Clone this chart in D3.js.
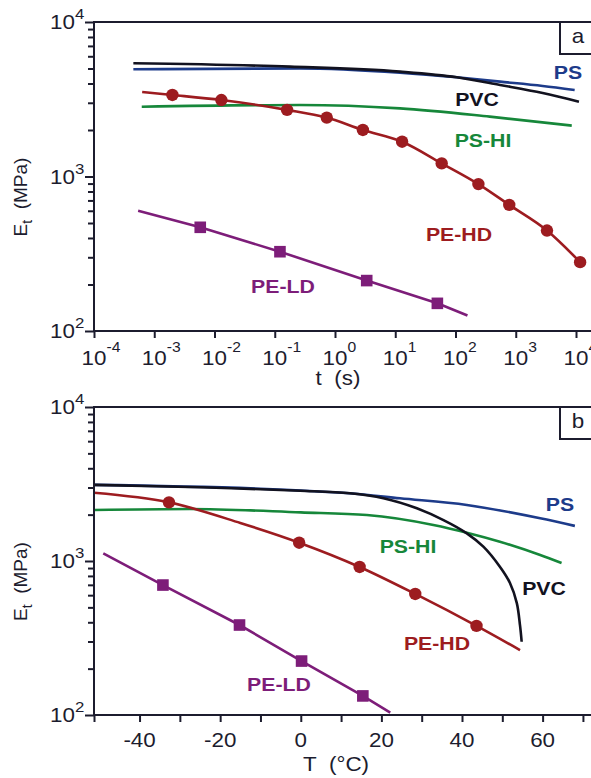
<!DOCTYPE html>
<meta charset="utf-8">
<script src="https://d3js.org/d3.v7.min.js"></script>
<style>
  body { margin: 0; background: #fff; }
  text { font-family: "Liberation Sans", Arial, sans-serif; }
</style>
<body>
<div id="chart"></div>
<script>

// ---- panel a : modulus vs. loading time ----
var tickExpT = ["-4", "-3", "-2", "-1", "0", "1", "2", "3", "4"];
var tickTimes = [1e-4, 1e-3, 1e-2, 1e-1, 1, 10, 100, 1000, 10000];
var tickExpE = ["2", "3", "4"];
var tickModuli = [100, 1000, 10000];

var psTime = [4.5e-4, 0.26, 12, 105, 550, 2800, 9500];
var psModA = [4940, 5010, 4700, 4385, 4110, 3855, 3630];
var pvcTime = [4.5e-4, 0.18, 12, 105, 550, 2800, 11200];
var pvcModA = [5405, 5140, 4770, 4385, 3910, 3470, 3050];
var pshiTime = [6.2e-4, 0.26, 12, 370, 8500];
var pshiModA = [2830, 2905, 2760, 2440, 2135];
var pehdTime = [6.3e-4, 2.0e-3, 0.013, 0.16, 0.73, 2.9, 13, 59, 240, 780, 3300, 11700];
var pehdModA = [3520, 3370, 3125, 2700, 2405, 2000, 1680, 1216, 893, 655, 447, 279];
var pehdDotTime = [2.0e-3, 0.013, 0.16, 0.73, 2.9, 13, 59, 240, 780, 3300, 11700];
var pehdDotModA = [3370, 3125, 2700, 2405, 2000, 1680, 1216, 893, 655, 447, 279];
var peldTime = [5.4e-4, 5.8e-3, 0.122, 3.36, 50, 158];
var peldModA = [601, 469, 326, 212, 151, 126];
var peldBoxTime = [5.8e-3, 0.122, 3.36, 50];
var peldBoxModA = [469, 326, 212, 151];

// ---- panel b : modulus vs. temperature ----
var tickTemps = [-40, -20, 0, 20, 40, 60];
var minorTemps = [-40, -30, -20, -10, 0, 10, 20, 30, 40, 50, 60, 70];

var psTemp = [-51.3, 0, 12, 24.6, 41.2, 59.4, 68];
var psModB = [3120, 2870, 2752, 2554, 2312, 1893, 1690];
var pvcTemp = [-51.3, -25, -0.2, 12.2, 20.5, 28.8, 35.4, 41.2, 45.3, 49.4, 51.9, 53.6, 54.4, 54.8];
var pvcModB = [3120, 3010, 2861, 2752, 2554, 2198, 1845, 1513, 1239, 918, 720, 533, 380, 299];
var pshiTemp = [-51.3, -27.5, 0, 16.4, 32.9, 41.2, 49.4, 59.4, 64.7];
var pshiModB = [2143, 2177, 2070, 1990, 1715, 1528, 1335, 1094, 970];
var pehdTemp = [-51.3, -32.7, -15, -0.4, 14.6, 28.4, 43.6, 54.4];
var pehdModB = [2777, 2404, 1765, 1315, 915, 611, 379, 264];
var pehdDotTemp = [-32.7, -0.4, 14.6, 28.4, 43.6];
var pehdDotModB = [2404, 1315, 915, 611, 379];
var peldTemp = [-49, -34.2, -15.2, 0.2, 15.4, 22.2];
var peldModB = [1122, 698, 384, 224, 133, 103.5];
var peldBoxTemp = [-34.2, -15.2, 0.2, 15.4];
var peldBoxModB = [698, 384, 224, 133];

var ink = "#1c1c2e";
var cPS = "#1d3b8a", cPVC = "#12121f", cPSHI = "#16873a", cPEHD = "#9d1c20", cPELD = "#7d1d79";
var sx = 1.12; // the original figure is a bit wider than tall

var svg = d3.select("#chart").append("svg")
  .attr("width", 591)
  .attr("height", 778);

function label(x, y, str, size, color, bold, anchor) {
  return svg.append("text")
    .attr("transform", "translate(" + x + "," + y + ") scale(" + sx + ",1)")
    .attr("text-anchor", anchor || "middle")
    .style("font-size", size + "px")
    .style("font-weight", bold ? "bold" : "normal")
    .attr("fill", color)
    .text(str);
}

function pow10(x, y, exp, supSize, supDy) {
  var t = label(x, y, "10", 20, ink, false, "start");
  t.append("tspan").attr("dy", supDy).style("font-size", supSize + "px").text(exp);
}

function zip(a, b) { return a.map(function(d, i) { return [d, b[i]]; }); }

function panel(x, y, top, bottom, letter) {
  // frame
  svg.append("rect")
    .attr("x", 94).attr("y", top)
    .attr("width", 512).attr("height", bottom - top)
    .attr("fill", "none").attr("stroke", ink).attr("stroke-width", 2);
  // letter box
  svg.append("rect")
    .attr("x", 560).attr("y", top)
    .attr("width", 50).attr("height", 32)
    .attr("fill", "#fff").attr("stroke", ink).attr("stroke-width", 2);
  label(578, top + 21, letter, 20, ink, false, "middle");

  // y axis, log
  var minor = [];
  [100, 1000].forEach(function(b) { for (var m = 2; m < 10; m++) minor.push(b * m); });
  svg.append("g").attr("transform", "translate(94,0)")
    .call(d3.axisLeft(y).tickValues(tickModuli).tickSize(9).tickSizeOuter(0).tickFormat(""));
  svg.append("g").attr("transform", "translate(94,0)")
    .call(d3.axisLeft(y).tickValues(minor).tickSize(6).tickSizeOuter(0).tickFormat(""));
  tickModuli.forEach(function(v, i) {
    pow10(50, y(v) + 7, tickExpE[i], 15, -10);
  });

  // y title
  var yt = svg.append("text")
    .attr("transform", "translate(27," + ((top + bottom) / 2 + 60) + ") rotate(-90)")
    .attr("text-anchor", "start")
    .style("font-size", "19px")
    .attr("fill", ink)
    .text("E");
  yt.append("tspan").attr("dy", 5).style("font-size", "14px").text("t");
  yt.append("tspan").attr("dy", -5).text("\u00a0\u00a0(MPa)");
}

function series(x, y, data, color, curve) {
  svg.append("path")
    .datum(data)
    .attr("fill", "none")
    .attr("stroke", color)
    .attr("stroke-width", 2.6)
    .attr("d", d3.line().x(function(d) { return x(d[0]); }).y(function(d) { return y(d[1]); })
      .curve(curve || d3.curveMonotoneX));
}

function dots(x, y, data, color) {
  svg.selectAll(null).data(data).enter().append("circle")
    .attr("cx", function(d) { return x(d[0]); })
    .attr("cy", function(d) { return y(d[1]); })
    .attr("r", 6.2).attr("fill", color);
}

function squares(x, y, data, color) {
  svg.selectAll(null).data(data).enter().append("rect")
    .attr("x", function(d) { return x(d[0]) - 5.8; })
    .attr("y", function(d) { return y(d[1]) - 5.8; })
    .attr("width", 11.6).attr("height", 11.6).attr("fill", color);
}

// ================= panel a =================
var xa = d3.scaleLog().domain([1e-4, 1e4]).range([94, 576]);
var ya = d3.scaleLog().domain([100, 10000]).range([331, 22]);

series(xa, ya, zip(psTime, psModA), cPS);
series(xa, ya, zip(pvcTime, pvcModA), cPVC);
series(xa, ya, zip(pshiTime, pshiModA), cPSHI);
series(xa, ya, zip(pehdTime, pehdModA), cPEHD);
dots(xa, ya, zip(pehdDotTime, pehdDotModA), cPEHD);
series(xa, ya, zip(peldTime, peldModA), cPELD, d3.curveLinear);
squares(xa, ya, zip(peldBoxTime, peldBoxModA), cPELD);

panel(xa, ya, 22, 331, "a");
svg.append("g").attr("transform", "translate(0,331)")
  .call(d3.axisBottom(xa).tickValues(tickTimes).tickSize(7).tickSizeOuter(0).tickFormat(""));
tickTimes.forEach(function(v, i) {
  pow10(xa(v) - 12.5, 365, tickExpT[i], 14, -13);
});
label(338, 385, "t\u00a0\u00a0(s)", 20, ink, false, "middle");

label(568, 79, "PS", 19, cPS, true);
label(477, 106, "PVC", 19, cPVC, true);
label(483, 147, "PS-HI", 19, cPSHI, true);
label(459, 241, "PE-HD", 19, cPEHD, true);
label(283, 293, "PE-LD", 19, cPELD, true);

// ================= panel b =================
var xb = d3.scaleLinear().domain([-51.3, 72.5]).range([94, 593]);
var yb = d3.scaleLog().domain([100, 10000]).range([715, 407]);

series(xb, yb, zip(psTemp, psModB), cPS);
series(xb, yb, zip(pshiTemp, pshiModB), cPSHI);
series(xb, yb, zip(pvcTemp, pvcModB), cPVC, d3.curveCatmullRom.alpha(0.5));
series(xb, yb, zip(pehdTemp, pehdModB), cPEHD);
dots(xb, yb, zip(pehdDotTemp, pehdDotModB), cPEHD);
series(xb, yb, zip(peldTemp, peldModB), cPELD, d3.curveLinear);
squares(xb, yb, zip(peldBoxTemp, peldBoxModB), cPELD);

panel(xb, yb, 407, 715, "b");
svg.append("g").attr("transform", "translate(0,715)")
  .call(d3.axisBottom(xb).tickValues([xb.domain()[0]].concat(minorTemps)).tickSize(7).tickSizeOuter(0).tickFormat(""));
tickTemps.forEach(function(v) {
  label(xb(v), 747, String(v), 20, ink, false, "middle");
});
label(336, 771, "T\u00a0\u00a0(\u00b0C)", 20, ink, false, "middle");

label(560, 511, "PS", 19, cPS, true);
label(408, 553, "PS-HI", 19, cPSHI, true);
label(544, 595, "PVC", 19, cPVC, true);
label(437, 650, "PE-HD", 19, cPEHD, true);
label(279, 691, "PE-LD", 19, cPELD, true);

svg.selectAll("g.tick line").attr("stroke", ink).attr("stroke-width", 2);
svg.selectAll("path.domain").remove();

</script>
</body>
</html>
